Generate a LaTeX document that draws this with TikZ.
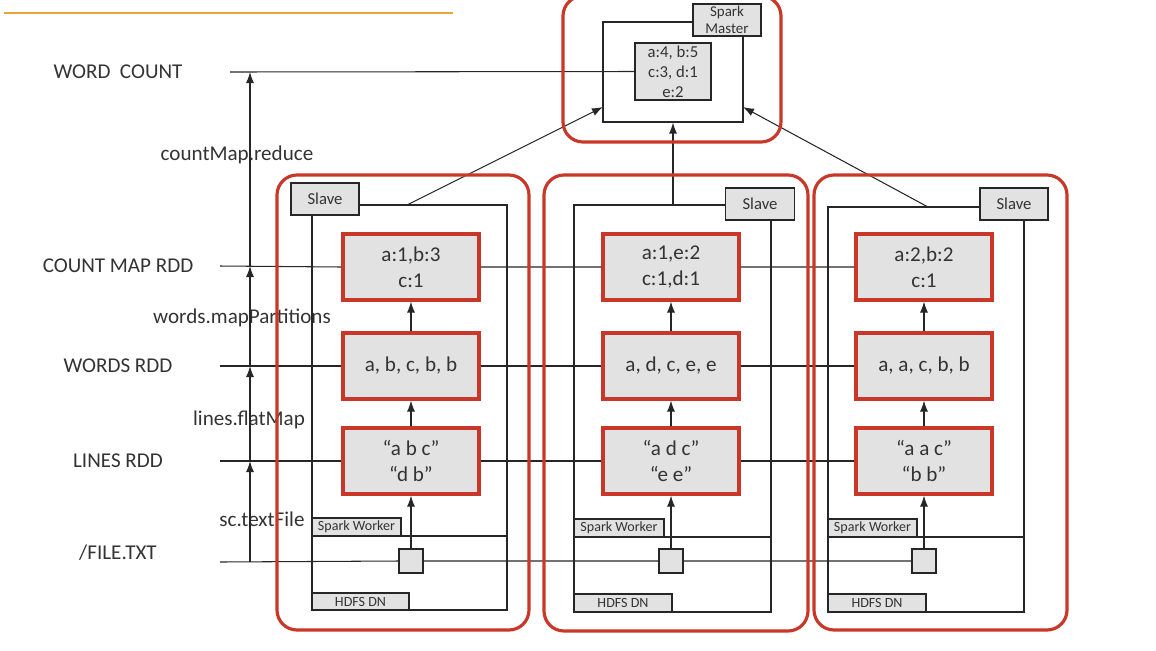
\documentclass[tikz,border=0pt]{standalone}
\usepackage{fontspec}
\setmainfont{Carlito}
\usepackage{tikz}
\usetikzlibrary{arrows.meta}

\definecolor{sparkred}{RGB}{200,55,40}
\definecolor{boxgray}{RGB}{226,226,226}
\definecolor{barorange}{RGB}{232,165,60}

\begin{document}
\begin{tikzpicture}[x=0.02cm, y=-0.02cm, line width=0.6pt, draw=black!85, text=black!80,
        worker/.style = {draw=sparkred, line width=1.8pt, rounded corners=0.4cm},
        rdd/.style = {draw=sparkred, line width=1.8pt, fill=boxgray, minimum width=2.72cm,
                minimum height=1.32cm, align=center, font=\fontsize{12}{15}\selectfont},
        tag/.style = {draw, fill=boxgray, inner sep=0pt, align=center},
        level/.style = {font=\fontsize{12}{14}\selectfont},
        flow/.style = {-{Latex[length=2.2mm,width=1.6mm]}}]
        \useasboundingbox (0,0) rectangle (1156,650);

        \draw [barorange, line width=1.6pt] (4,13) -- (453,13);

        \node [level] (wc) at (118,72) {WORD\ \ COUNT};
        \node [level] (cm) at (118,266) {COUNT MAP RDD};
        \node [level] (wd) at (118,366) {WORDS RDD};
        \node [level] (ln) at (118,461) {LINES RDD};
        \node [level] (fl) at (118,553) {/FILE.TXT};
        \node [level] at (237,155) {countMap.reduce};
        \node [level] at (242,318) {words.mapPartitions};
        \node [level] at (249,420) {lines.flatMap};
        \node [level] at (262,519) {sc.textFile};

        \coordinate (a0) at (250,562); \coordinate (a1) at (250,461);
        \coordinate (a2) at (250,366); \coordinate (a3) at (250,266);
        \coordinate (a4) at (250,72);
        \draw [flow] (a0) -- (a1);
        \draw [flow] (a1) -- (a2);
        \draw [flow] (a2) -- (a3);
        \draw [flow] (a3) -- (a4);

        \draw (312,205) rectangle (507,610);
        \draw (574,205) rectangle (771,612);
        \draw (828,207) rectangle (1024,612);
        \draw (312,536) -- (507,536);
        \draw (574,537) -- (771,537);
        \draw (828,537) -- (1024,537);

        \node [draw, minimum width=2.8cm, minimum height=2cm] (master) at (673,72) {};
        \node [tag, minimum width=1.52cm, minimum height=1.14cm,
                font=\fontsize{9.5}{11.5}\selectfont] (total) at (673,71.5) {a:4, b:5\\c:3, d:1\\e:2};
        \node [tag, minimum width=1.36cm, minimum height=0.64cm,
                font=\fontsize{8.5}{10}\selectfont] (smaster) at (727,20) {Spark\\Master};

        \coordinate (lvwc) at (230,72);
        \coordinate (lvcm) at (220,266);
        \coordinate (lvwd) at (220,366);
        \coordinate (lvln) at (220,461);
        \coordinate (lvfl) at (220,562);
        \draw (lvwc) -- (total.west);

        \node [rdd] (lcount) at (411,267) {a:1,b:3\\c:1};
        \node [rdd] (lwords) at (411,366) {a, b, c, b, b};
        \node [rdd] (llines) at (411,461) {“a b c”\\“d b”};
        \node [rdd] (mcount) at (671,267) {a:1,e:2\\c:1,d:1};
        \node [rdd] (mwords) at (671,366) {a, d, c, e, e};
        \node [rdd] (mlines) at (671,461) {“a d c”\\“e e”};
        \node [rdd] (rcount) at (924,267) {a:2,b:2\\c:1};
        \node [rdd] (rwords) at (924,366) {a, a, c, b, b};
        \node [rdd] (rlines) at (924,461) {“a a c”\\“b b”};

        \node [tag, minimum size=0.48cm] (lfile) at (411,561) {};
        \node [tag, minimum size=0.48cm] (mfile) at (671,561) {};
        \node [tag, minimum size=0.48cm] (rfile) at (924,561) {};

        \draw (lvcm) -- (lcount.west) (lcount.east) -- (mcount.west) (mcount.east) -- (rcount.west);
        \draw (lvwd) -- (lwords.west) (lwords.east) -- (mwords.west) (mwords.east) -- (rwords.west);
        \draw (lvln) -- (llines.west) (llines.east) -- (mlines.west) (mlines.east) -- (rlines.west);
        \draw (lvfl) -- (lfile.west) (lfile.east) -- (mfile.west) (mfile.east) -- (rfile.west);

        \draw [flow] (lfile) -- (llines);
        \draw [flow] (llines) -- (lwords);
        \draw [flow] (lwords) -- (lcount);
        \draw [flow] (mfile) -- (mlines);
        \draw [flow] (mlines) -- (mwords);
        \draw [flow] (mwords) -- (mcount);
        \draw [flow] (rfile) -- (rlines);
        \draw [flow] (rlines) -- (rwords);
        \draw [flow] (rwords) -- (rcount);

        \node [tag, minimum width=1.36cm, minimum height=0.64cm,
                font=\fontsize{9.5}{11}\selectfont] (lslave) at (325,199) {Slave};
        \node [tag, minimum width=1.38cm, minimum height=0.64cm,
                font=\fontsize{9.5}{11}\selectfont] (mslave) at (760,204) {Slave};
        \node [tag, minimum width=1.36cm, minimum height=0.64cm,
                font=\fontsize{9.5}{11}\selectfont] (rslave) at (1014,204) {Slave};
        \node [tag, minimum width=1.78cm, minimum height=0.36cm,
                font=\fontsize{8}{9}\selectfont] (lworker) at (356.5,527) {Spark Worker};
        \node [tag, minimum width=1.8cm, minimum height=0.36cm,
                font=\fontsize{8}{9}\selectfont] (mworker) at (619,528) {Spark Worker};
        \node [tag, minimum width=1.78cm, minimum height=0.36cm,
                font=\fontsize{8}{9}\selectfont] (rworker) at (872.5,528) {Spark Worker};
        \node [tag, minimum width=1.94cm, minimum height=0.34cm,
                font=\fontsize{8}{9}\selectfont] (lhdfs) at (360.5,601.5) {HDFS DN};
        \node [tag, minimum width=1.96cm, minimum height=0.36cm,
                font=\fontsize{8}{9}\selectfont] (mhdfs) at (623,603) {HDFS DN};
        \node [tag, minimum width=1.96cm, minimum height=0.36cm,
                font=\fontsize{8}{9}\selectfont] (rhdfs) at (877,603) {HDFS DN};

        \coordinate (lup) at (407,205);
        \coordinate (mup) at (673,205);
        \coordinate (rup) at (928,207);
        \coordinate (min) at (603,107);
        \coordinate (rin) at (743,107);
        \draw [flow] (lup) -- (min);
        \draw [flow] (mup) -- (master.south);
        \draw [flow] (rup) -- (rin);

        \draw [worker] (277,175) rectangle (529,630);
        \draw [worker] (544,175) rectangle (808,631);
        \draw [worker] (814,175) rectangle (1067,630);
        \draw [worker] (563,-4) rectangle (781,142);
\end{tikzpicture}
\end{document}
